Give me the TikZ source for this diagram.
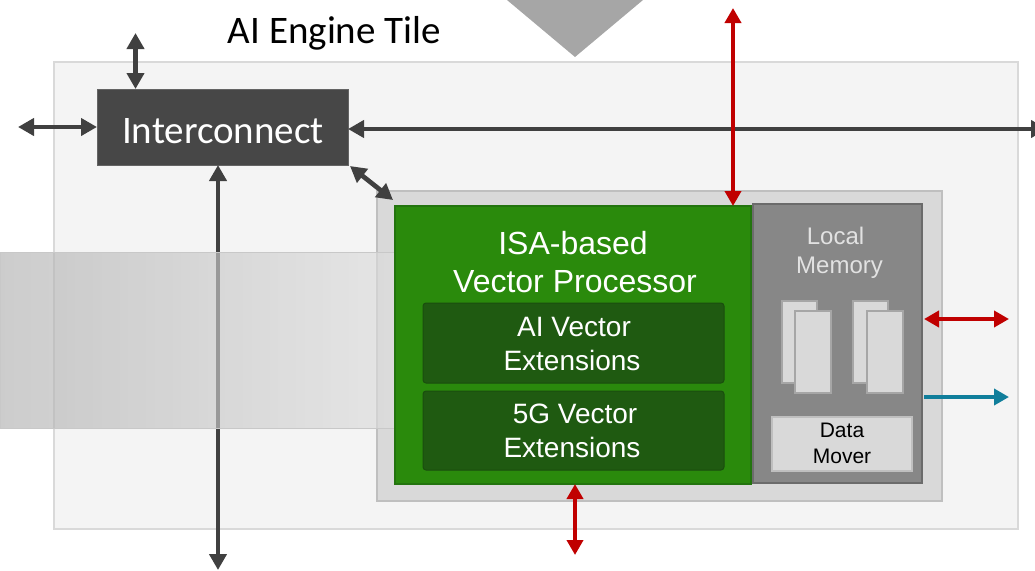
\documentclass[tikz,border=0pt]{standalone}
\usepackage{fontspec}
\usetikzlibrary{arrows.meta,calc}
\newfontfamily\calfont{Carlito}
\newfontfamily\arialfont{Liberation Sans}
\definecolor{tilebg}{HTML}{F4F4F4}
\definecolor{tileline}{HTML}{D9D9D9}
\definecolor{icfill}{HTML}{474747}
\definecolor{icline}{HTML}{646464}
\definecolor{boxgray}{HTML}{D9D9D9}
\definecolor{boxline}{HTML}{BFBFBF}
\definecolor{vpgreen}{HTML}{2A8A0C}
\definecolor{vpline}{HTML}{23740E}
\definecolor{extgreen}{HTML}{1F5A11}
\definecolor{extline}{HTML}{1A4E0E}
\definecolor{memfill}{HTML}{878787}
\definecolor{memline}{HTML}{6B6B6B}
\definecolor{bankline}{HTML}{A6A6A6}
\definecolor{memtext}{HTML}{E2E2E2}
\definecolor{darkarrow}{HTML}{404040}
\definecolor{redarrow}{HTML}{C00000}
\definecolor{tealarrow}{HTML}{107E9B}
\definecolor{bandleft}{HTML}{B1B1B1}
\definecolor{bandright}{HTML}{DEDEDE}
\definecolor{bandline}{HTML}{C8C8C8}
\definecolor{tri}{HTML}{A6A6A6}
\begin{document}
\begin{tikzpicture}[x=1pt,y=-1pt,
  blk/.style={rectangle,inner sep=0pt,outer sep=0pt},
  lbl/.style={inner sep=0pt,outer sep=0pt,anchor=base},
  darr/.style={line width=4.7pt,darkarrow,{Triangle[length=16pt,width=17pt]}-{Triangle[length=16pt,width=17pt]}},
  rarr/.style={line width=4.7pt,redarrow,{Triangle[length=15pt,width=16pt]}-{Triangle[length=15pt,width=16pt]}},
  tarr/.style={line width=4.7pt,tealarrow,-{Triangle[length=15pt,width=16pt]}},
  vptext/.style={lbl,text=white,font=\arialfont\fontsize{32}{38}\selectfont},
  exttext/.style={lbl,text=white,font=\arialfont\fontsize{28}{34}\selectfont},
  memtxt/.style={lbl,text=memtext,font=\arialfont\fontsize{24}{29}\selectfont},
  dmtext/.style={lbl,text=black,font=\arialfont\fontsize{21}{26}\selectfont},
  bank/.style={blk,fill=boxgray,draw=bankline,line width=1.5pt,minimum width=35pt,minimum height=82pt}]
\useasboundingbox (0,0) rectangle (1035,570);

% incoming stream marker above the tile
\fill[tri] (507,0) -- (643,0) -- (575,57) -- cycle;

% tile outline and title
\node[blk,fill=tilebg,draw=tileline,line width=1.5pt,minimum width=964pt,minimum height=467pt] (tile) at (536,295.5) {};
\node[lbl,font=\calfont\fontsize{39}{46}\selectfont] (title) at (334.5,43) {AI Engine Tile};

% interconnect switch
\node[blk,fill=icfill,draw=icline,line width=1pt,minimum width=251pt,minimum height=76pt] (ic) at (222.5,127) {};
\node[lbl,text=white,font=\calfont\fontsize{39}{46}\selectfont] (ictext) at (223,143) {Interconnect};

% core container
\node[blk,fill=boxgray,draw=boxline,line width=2pt,minimum width=565pt,minimum height=310pt] (core) at (659.5,346) {};

% free ends of the connectors
\coordinate (topend) at (135.5,33);
\coordinate (leftend) at (18,127);
\coordinate (rightend) at (1047,129);
\coordinate (botend) at (218,570);
\coordinate (diagend) at (393,200);
\coordinate (redtop) at (733,8);
\coordinate (redbot) at (575,555);
\coordinate (redright) at (1009,319);
\coordinate (tealend) at (1009,397);

% interconnect links
\draw[darr] (topend) -- (topend |- ic.north);
\draw[darr] (leftend) -- (ic.west);
\draw[darr] (ic.east |- rightend) -- (rightend);
\draw[darr] (botend |- ic.south) -- (botend);
\draw[darr] ($(ic.south east)+(2,1)$) -- (diagend);

% translucent band across the left side
\shade[left color=bandleft,right color=bandright,fill opacity=0.65] (0,252) rectangle (397,428);
\draw[bandline,line width=1pt] (0,252) rectangle (397,428);

% vector processor
\node[blk,fill=vpgreen,draw=vpline,line width=1.5pt,minimum width=356pt,minimum height=278pt] (vp) at (573,345) {};
\node[vptext] (vpt1) at (573,254) {ISA-based};
\node[vptext] (vpt2) at (575,292) {Vector Processor};

\node[blk,fill=extgreen,draw=extline,line width=1pt,rounded corners=3pt,minimum width=301pt,minimum height=80pt] (aiext) at (573.5,343) {};
\node[exttext] (ait1) at (574,336) {AI Vector};
\node[exttext] (ait2) at (572,370) {Extensions};

\node[blk,fill=extgreen,draw=extline,line width=1pt,rounded corners=3pt,minimum width=301pt,minimum height=79pt] (fgext) at (573.5,430.5) {};
\node[exttext] (fgt1) at (575,423) {5G Vector};
\node[exttext] (fgt2) at (572,457) {Extensions};

% local memory
\node[blk,fill=memfill,draw=memline,line width=2pt,minimum width=169pt,minimum height=279pt] (mem) at (837.5,343.5) {};
\node[memtxt] (memt1) at (835.5,244) {Local};
\node[memtxt] (memt2) at (839.5,273) {Memory};

\node[bank] (bankA) at (799.5,342) {};
\node[bank,minimum width=36pt] (bankB) at (813,352) {};
\node[bank] (bankC) at (870.5,342) {};
\node[bank,minimum width=36pt] (bankD) at (885,352) {};

\node[blk,fill=boxgray,draw=boxline,line width=2pt,minimum width=140pt,minimum height=54pt] (dm) at (842,444) {};
\node[dmtext] (dmt1) at (842,437) {Data};
\node[dmtext] (dmt2) at (842,463) {Mover};

% memory and stream ports
\draw[rarr] (redtop) -- (redtop |- vp.north);
\draw[rarr] (vp.south -| redbot) -- (redbot);
\draw[rarr] ($(mem.east |- redright)+(2,0)$) -- (redright);
\draw[tarr] ($(mem.east |- tealend)+(2,0)$) -- (tealend);
\end{tikzpicture}
\end{document}
